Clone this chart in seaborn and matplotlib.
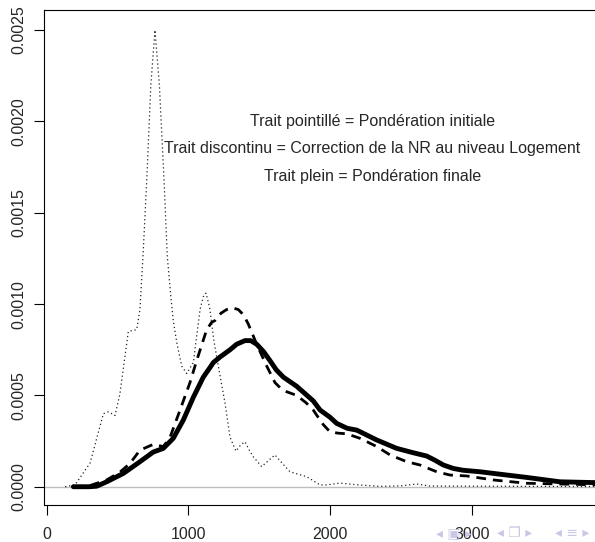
import seaborn as sns
import matplotlib.pyplot as plt
import pandas as pd

# dotted curve: initial weights
x_init = [130, 200, 306, 400, 435, 482, 517, 576, 635, 658, 682, 706, 735, 764,
          795, 828, 851, 875, 893, 920, 953, 988, 1035, 1082, 1105, 1124, 1150,
          1180, 1211, 1258, 1294, 1336, 1370, 1399, 1430, 1458, 1517, 1560, 1611,
          1660, 1717, 1835, 1929, 1976, 2070, 2200, 2352, 2500, 2611, 2700, 3000,
          3400, 3900]
y_init = [0.0, 0.00001, 0.00013, 0.0004, 0.00041, 0.00039, 0.00051, 0.00085,
          0.00086, 0.00097, 0.0013, 0.00168, 0.0022, 0.0025, 0.0022, 0.00168,
          0.00126, 0.00105, 0.00091, 0.00078, 0.00066, 0.00062, 0.00068, 0.00097,
          0.00104, 0.00106, 0.00098, 0.0008, 0.00066, 0.00046, 0.00027, 0.000195,
          0.00023, 0.000246, 0.0002, 0.000164, 0.00011, 0.00014, 0.000174,
          0.00013, 0.000082, 0.000055, 0.00001, 0.00001, 0.00002, 0.00001,
          0.000002, 0.000005, 0.000015, 0.000004, 0.000003, 0.000002, 0.000001]

# dashed curve: NR correction at dwelling level
x_nr = [188, 300, 423, 517, 588, 658, 752, 823, 870, 941, 1011, 1058, 1129,
        1164, 1188, 1230, 1270, 1310, 1352, 1390, 1423, 1482, 1553, 1611, 1650,
        1694, 1764, 1830, 1881, 1929, 1952, 2000, 2060, 2117, 2211, 2329, 2423,
        2541, 2634, 2752, 2846, 2964, 3152, 3387, 3622, 3900]
y_nr = [0.0, 0.000005, 0.000037, 0.00008, 0.000128, 0.0002, 0.000232, 0.00022,
        0.00027, 0.00042, 0.00057, 0.00069, 0.00086, 0.0009, 0.00091, 0.00095,
        0.00097, 0.00098, 0.00097, 0.00094, 0.00089, 0.00078, 0.00066, 0.00057,
        0.00054, 0.00052, 0.0005, 0.00046, 0.00042, 0.000365, 0.00034, 0.0003,
        0.000293, 0.00029, 0.000265, 0.00022, 0.000174, 0.000137, 0.000119,
        0.000082, 0.000064, 0.000059, 0.000037, 0.000019, 0.000015, 0.00001]

# solid curve: final weights
x_fin = [188, 300, 353, 423, 541, 658, 752, 823, 893, 964, 1035, 1105, 1150,
         1176, 1223, 1294, 1340, 1399, 1440, 1482, 1530, 1576, 1620, 1670, 1764,
         1881, 1929, 2000, 2046, 2120, 2188, 2329, 2470, 2587, 2682, 2740, 2799,
         2870, 2940, 3058, 3152, 3387, 3622, 3900]
y_fin = [0.0, 0.0, 0.000003, 0.000027, 0.000073, 0.000137, 0.00019, 0.00021,
         0.000265, 0.000365, 0.00049, 0.0006, 0.00065, 0.00068, 0.00071,
         0.00075, 0.00078, 0.0008, 0.0008, 0.00078, 0.00074, 0.00069, 0.00064,
         0.0006, 0.00055, 0.00047, 0.00042, 0.00038, 0.000347, 0.00032, 0.00031,
         0.000256, 0.00021, 0.000186, 0.000168, 0.000145, 0.000119, 0.0001,
         0.00009, 0.000082, 0.000073, 0.000051, 0.000027, 0.000022]

notes = ["Trait pointillé = Pondération initiale",
         "Trait discontinu = Correction de la NR au niveau Logement",
         "Trait plein = Pondération finale"]
note_y = [0.002, 0.00185, 0.0017]

x_ticks = [0, 1000, 2000, 3000]
y_ticks = [0.0, 0.0005, 0.0010, 0.0015, 0.0020, 0.0025]

sns.set_style("white")
plt.rcParams['font.family'] = ['Liberation Sans', 'DejaVu Sans']

fig = plt.figure(figsize=(5.95, 5.42), dpi=100)
ax = fig.add_axes([44.3 / 595, 37 / 542, (600 - 44.3) / 595, 495 / 542])

ax.axhline(0, color='#bebebe', lw=1, zorder=0)

df_i = pd.DataFrame({'x': x_init, 'y': y_init})
df_n = pd.DataFrame({'x': x_nr, 'y': y_nr})
df_f = pd.DataFrame({'x': x_fin, 'y': y_fin})

sns.lineplot(data=df_i, x='x', y='y', ax=ax, color='#222222', lw=0.9,
             linestyle=(0, (1, 2.2)), estimator=None)
sns.lineplot(data=df_n, x='x', y='y', ax=ax, color='black', lw=2,
             linestyle=(0, (3.5, 2.5)), estimator=None)
sns.lineplot(data=df_f, x='x', y='y', ax=ax, color='black', lw=3.5,
             estimator=None, solid_capstyle='round', solid_joinstyle='round')

for t, yy in zip(notes, note_y):
    ax.text(2300, yy, t, ha='center', va='center', fontsize=11.5)

ax.set_xlim(-17, (600 - 46.7) / 0.1417)
ax.set_ylim(-0.0001, 0.00261)
ax.set_xticks(x_ticks)
ax.set_xticklabels([str(v) for v in x_ticks])
ax.set_yticks(y_ticks)
ax.set_yticklabels([f'{v:.4f}' for v in y_ticks], rotation=90, va='center')
ax.tick_params(axis='both', direction='out', length=7, width=0.8,
               color='black', labelsize=11.5, left=True, bottom=True)
ax.tick_params(axis='x', pad=9)
ax.tick_params(axis='y', pad=6)
ax.set_xlabel('')
ax.set_ylabel('')
for s in ['left', 'top', 'bottom']:
    ax.spines[s].set_color('black')
    ax.spines[s].set_linewidth(0.8)
ax.spines['right'].set_visible(False)

# beamer navigation symbols
nav_y = 1 - 533 / 542
fig.text(436 / 595, nav_y, '◂ ▣ ▸', color='#c8c8e6', fontsize=10,
         ha='left', va='center', family='DejaVu Sans', zorder=0)
fig.text(497 / 595, nav_y, '◂ ❐ ▸', color='#c8c8e6', fontsize=10,
         ha='left', va='center', family='DejaVu Sans')
fig.text(555 / 595, nav_y, '◂ ≡ ▸', color='#c8c8e6', fontsize=10,
         ha='left', va='center', family='DejaVu Sans')

fig.savefig('out.png', dpi=100)
